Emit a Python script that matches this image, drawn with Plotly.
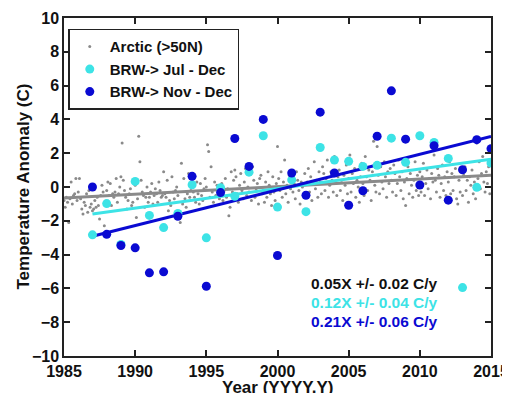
import plotly.graph_objects as go

# ---------------- data ----------------
years = list(range(1987, 2016))
jul_dec = [-2.83, -0.98, -3.40, 0.33, -1.68, -2.40, -1.57, 0.13, -3.01, -0.04,
           -0.55, 0.88, 3.03, -1.19, 0.42, -1.46, 2.34, 1.60, 1.52, 1.22,
           1.28, 2.89, 1.46, 3.03, 2.64, 1.69, -5.95, -0.02, 1.42]
nov_dec = [0.00, -2.80, -3.46, -3.60, -5.08, -5.02, -1.73, 0.63, -5.87, -0.33,
           2.87, 1.22, 4.00, -4.05, 0.83, -0.49, 4.43, 0.83, -1.08, -0.22,
           3.00, 5.69, 2.83, 0.12, 2.44, -0.78, 1.02, 2.80, 2.27]

arctic_years = list(range(1985, 2015))
arctic_monthly = [
    [-0.8, -1.2, -0.6, -0.9, -2.1, -0.7, 0.3, -1.0, -0.5, -0.4, 0.5, -0.8],
    [-0.3, 0.5, -0.7, -1.3, -1.6, -0.9, -1.1, -0.4, -1.5, -0.2, -1.2, -1.0],
    [-1.4, -1.3, -0.8, -1.2, -0.6, -1.1, -1.9, -0.5, 0.1, -0.3, -2.3, -1.0],
    [-0.2, 0.3, -0.5, 0.2, -1.1, -0.4, -0.6, -0.3, 0.5, -0.9, -0.4, 0.0],
    [0.6, 2.6, 0.4, -0.2, -0.6, -1.3, -0.8, -0.4, -0.1, -1.1, -0.9, 0.3],
    [0.1, -1.8, -0.7, 3.0, 1.5, 0.4, -0.3, -0.5, -1.2, -0.6, 0.0, -0.9],
    [-0.6, -0.3, 0.2, -1.0, -0.5, -0.1, -0.4, -0.9, 0.3, -0.2, -0.6, -0.5],
    [0.9, -0.4, -0.6, 0.4, -1.4, -0.8, -1.1, 0.6, -0.3, -0.7, -0.2, 0.0],
    [-0.5, -1.5, -2.1, 1.4, -1.0, 0.5, -0.7, -1.2, -0.4, 0.8, -0.6, -0.2],
    [0.1, -0.3, -0.6, -0.9, 0.3, -0.4, -1.0, 0.2, -0.5, -0.8, -0.1, 0.5],
    [0.0, 2.5, 2.1, -0.6, 1.2, -0.3, -0.9, 0.3, -0.5, 0.1, -0.2, -0.7],
    [-0.4, 0.2, -0.8, -0.2, 0.5, -0.6, -0.1, -1.7, -1.2, 0.9, -0.3, 0.4],
    [1.0, 0.6, -0.4, -0.9, 0.1, 0.8, -0.2, -0.7, 0.3, 1.1, -0.5, 0.0],
    [-0.3, 0.9, -0.8, 1.2, 0.4, -0.6, -0.1, 0.2, -1.0, 0.5, 0.7, -0.4],
    [-0.2, -0.9, 0.3, -0.6, 0.9, 0.1, -0.4, -1.1, 0.6, -0.3, -0.8, 0.2],
    [2.4, 0.5, -0.2, 0.9, -0.6, 0.3, 1.6, -0.4, 0.1, -0.9, 0.7, -0.1],
    [0.6, -0.3, 0.2, -0.7, 0.9, 0.4, -0.2, -1.0, 0.3, 0.0, -0.5, 0.8],
    [-0.5, 0.3, 1.1, -0.3, 0.6, -0.8, 0.2, 1.5, -0.1, 0.4, -0.6, 0.9],
    [0.3, -0.4, 1.2, 0.8, -0.2, 0.5, 1.6, -0.6, 0.1, 0.9, 0.4, -0.3],
    [1.8, 0.2, -0.5, 0.6, 1.0, -0.2, 0.4, -0.8, 0.7, 0.1, 1.3, -0.4],
    [0.5, 1.9, -0.3, 0.8, 0.2, 1.1, -0.6, 0.4, 0.0, -0.9, 0.6, 1.4],
    [0.2, -0.5, 1.8, 0.6, -0.2, 1.0, 0.4, -0.8, 0.9, 2.7, 0.1, -0.3],
    [2.4, 0.7, -0.4, 1.2, 0.3, -0.1, 1.5, 0.6, -0.6, 0.9, 0.2, 1.1],
    [0.4, -0.3, 1.3, 0.8, -0.5, 0.2, 1.6, 0.6, -0.2, 0.9, -0.7, 0.3],
    [-1.1, 0.5, 1.2, -0.4, 0.8, 0.1, -0.6, 0.4, 1.5, -0.2, 0.7, -0.5],
    [0.9, -0.3, 0.6, 1.4, -0.5, 0.2, 1.0, -0.1, 0.5, -0.7, 0.8, 0.3],
    [1.9, 0.4, -0.3, 1.1, 0.7, -0.6, 0.2, 1.3, -0.2, 0.6, -0.5, 0.9],
    [0.3, 1.5, -0.4, 0.8, -0.2, 0.6, 1.1, -0.7, -1.0, 0.4, -0.3, 1.0],
    [-0.5, 0.7, 1.2, -0.2, 0.4, -0.9, 0.6, 0.1, 1.0, -0.4, 0.3, -0.7],
    [2.6, 0.5, 1.5, -0.1, 0.8, 1.8, 0.3, -0.3, 0.9, 0.2, 1.2, -0.4],
]

# trend fits: (value at year 2000, slope per year, start year, end year)
trend_arctic = (0.02, 0.045, 1985, 2015)
trend_jul = (-0.09, 0.116, 1987, 2015)
trend_nov = (-0.17, 0.211, 1987, 2015)

trend_labels = ["0.05X +/- 0.02 C/y", "0.12X +/- 0.04 C/y", "0.21X +/- 0.06 C/y"]
label_y = [-5.7, -6.83, -7.95]

x_title = "Year (YYYY.Y)"
y_title = "Temperature Anomaly (C)"
x_ticks = [1985, 1990, 1995, 2000, 2005, 2010, 2015]
y_ticks = list(range(-10, 11, 2))

GRAY = "#8a8a8a"
CYAN = "#3de3e6"
BLUE = "#0a0ad2"
FONT = "Liberation Sans, Arial, sans-serif"

# ---------------- build ----------------
ax, ay = [], []
for yr, vals in zip(arctic_years, arctic_monthly):
    for m, v in enumerate(vals):
        ax.append(yr + m / 12.0)
        ay.append(v)


def trend_xy(t):
    c, s, x0, x1 = t
    return [x0, x1], [c + s * (x0 - 2000), c + s * (x1 - 2000)]


fig = go.Figure()
fig.add_trace(go.Scatter(x=ax, y=ay, mode="markers", name="Arctic (>50N)",
                         marker=dict(color=GRAY, size=3)))
for t, col in [(trend_arctic, GRAY), (trend_jul, CYAN), (trend_nov, BLUE)]:
    tx, ty = trend_xy(t)
    fig.add_trace(go.Scatter(x=tx, y=ty, mode="lines", showlegend=False,
                             line=dict(color=col, width=3), hoverinfo="skip"))
fig.add_trace(go.Scatter(x=years, y=jul_dec, mode="markers", name="BRW-> Jul - Dec",
                         marker=dict(color=CYAN, size=9)))
fig.add_trace(go.Scatter(x=years, y=nov_dec, mode="markers", name="BRW-> Nov - Dec",
                         marker=dict(color=BLUE, size=9)))

for txt, yv, col in zip(trend_labels, label_y, ["#111111", CYAN, BLUE]):
    fig.add_annotation(x=2011.4, y=yv, xref="x", yref="y", text=txt, showarrow=False,
                       xanchor="right", yanchor="middle",
                       font=dict(family=FONT, size=15.5, color=col, weight="bold"))

title_font = dict(family=FONT, size=17, color="#111", weight="bold")
# axis titles placed as annotations so their position can be matched exactly
fig.add_annotation(x=0.5, y=0, xref="paper", yref="paper", text=x_title,
                   showarrow=False, xanchor="center", yanchor="middle",
                   yshift=-31, font=title_font)
fig.add_annotation(x=0, y=0.5, xref="paper", yref="paper", text=y_title,
                   showarrow=False, xanchor="center", yanchor="middle",
                   textangle=-90, xshift=-41.5, font=title_font)

axis_common = dict(showgrid=False, zeroline=False, showline=True, linecolor="#222",
                   linewidth=1.5, mirror="ticks", ticks="inside", ticklen=6,
                   tickcolor="#222", tickwidth=1.5, automargin=False,
                   tickfont=dict(family=FONT, size=16, color="#111", weight="bold"))

# the page body adds an 8px offset, so the figure is sized to fit the window
fig.update_layout(
    width=502, height=385,
    margin=dict(l=55.5, r=18.5, t=9.5, b=37),
    paper_bgcolor="white", plot_bgcolor="white",
    showlegend=True,
    legend=dict(x=0.01, y=0.968, xanchor="left", yanchor="top",
                bgcolor="white", bordercolor="#222", borderwidth=1.5,
                font=dict(family=FONT, size=15, color="#111", weight="bold"),
                itemsizing="trace", tracegroupgap=0),
    xaxis=dict(range=[1985, 2015], tickvals=x_ticks, **axis_common),
    yaxis=dict(range=[-10, 10], tickvals=y_ticks, **axis_common),
)

fig.write_html("out.html")
